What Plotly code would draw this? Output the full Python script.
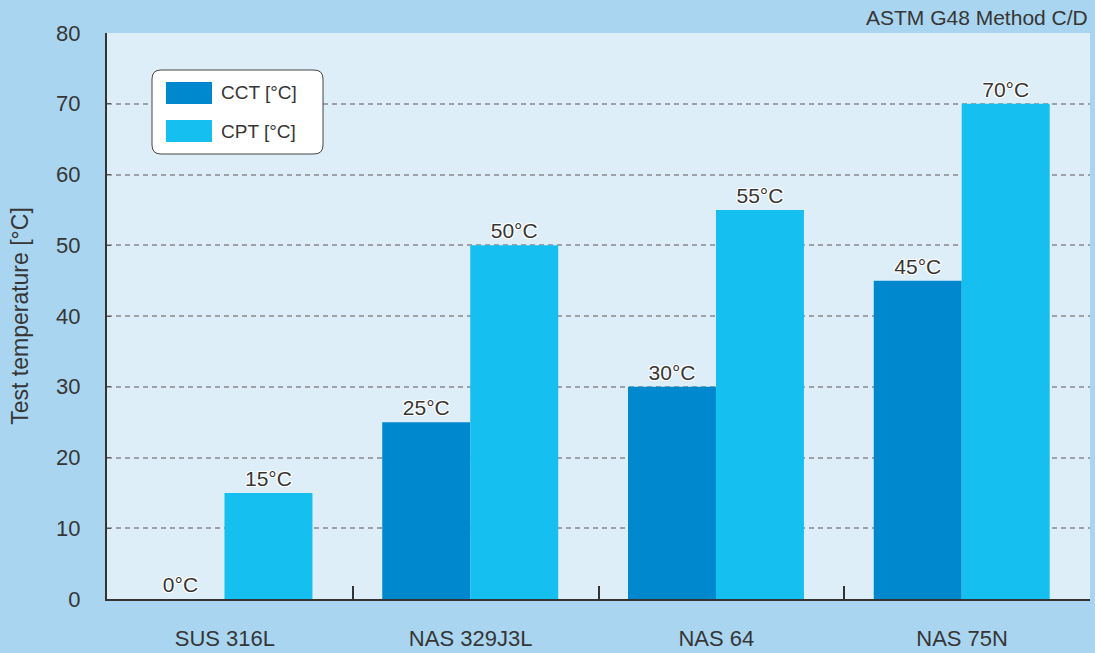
import plotly.graph_objects as go

categories = ["SUS 316L", "NAS 329J3L", "NAS 64", "NAS 75N"]
cct = [0, 25, 30, 45]
cpt = [15, 50, 55, 70]
series_names = ["CCT [°C]", "CPT [°C]"]
colors = ["#0088CE", "#15C0F0"]

FONT = "Liberation Sans, Arial, sans-serif"
TXT = "#363636"
SHADOW = "1px 1px 0 white, -1px -1px 0 white, 1px -1px 0 white, -1px 1px 0 white, 0 1px 0 white, 0 -1px 0 white, 1px 0 0 white, -1px 0 0 white"

BW = 0.358
SHIFT = -0.022
fig = go.Figure()
for i, (name, vals, col) in enumerate(zip(series_names, [cct, cpt], colors)):
    fig.add_trace(go.Bar(
        x=categories, y=vals, name=name, marker=dict(color=col, line=dict(width=0)),
        width=BW, offset=SHIFT - BW + i * BW,
        text=[f"{v}°C" for v in vals], textposition="outside",
        textfont=dict(size=21, color=TXT, family=FONT, shadow=SHADOW),
        cliponaxis=False, showlegend=False,
    ))

W, H = 1095, 653
L, R, T, B = 107, 5, 33, 54
pw, ph = W - L - R, H - T - B

def px(x):
    return (x - L) / pw

def py(y):
    return (H - B - y) / ph

# custom legend with rounded box
bx0, bx1, by0, by1, r = 152, 323, 70, 154, 9
path = (f"M {px(bx0 + r)},{py(by0)} L {px(bx1 - r)},{py(by0)} "
        f"Q {px(bx1)},{py(by0)} {px(bx1)},{py(by0 + r)} "
        f"L {px(bx1)},{py(by1 - r)} Q {px(bx1)},{py(by1)} {px(bx1 - r)},{py(by1)} "
        f"L {px(bx0 + r)},{py(by1)} Q {px(bx0)},{py(by1)} {px(bx0)},{py(by1 - r)} "
        f"L {px(bx0)},{py(by0 + r)} Q {px(bx0)},{py(by0)} {px(bx0 + r)},{py(by0)} Z")
fig.add_shape(type="path", xref="paper", yref="paper", path=path,
              line=dict(color="#444444", width=1), fillcolor="white", layer="above")
for i, (name, col) in enumerate(zip(series_names, colors)):
    top = 82 + i * 38
    fig.add_shape(type="rect", xref="paper", yref="paper",
                  x0=px(166), x1=px(212), y0=py(top + 22), y1=py(top),
                  line=dict(width=0), fillcolor=col, layer="above")
    fig.add_annotation(xref="paper", yref="paper", x=px(219), y=py(top + 11),
                       text=name, showarrow=False, xanchor="left", yanchor="middle",
                       font=dict(size=19, color=TXT, family=FONT))

fig.add_annotation(xref="paper", yref="paper", x=1.0, y=py(17), text="ASTM G48 Method C/D",
                   showarrow=False, xanchor="right", yanchor="middle",
                   font=dict(size=21, color=TXT, family=FONT))

fig.update_layout(
    width=W, height=H,
    margin=dict(l=L, r=R, t=T, b=B),
    paper_bgcolor="#A9D5F0", plot_bgcolor="#DDEEF9",
    barmode="group", bargap=0.284, bargroupgap=0,
    font=dict(family=FONT, color=TXT),
    xaxis=dict(
        tickson="boundaries", ticks="inside", ticklen=13, tickwidth=2, tickcolor="#333333",
        showline=True, linecolor="#333333", linewidth=2,
        tickfont=dict(size=22, color=TXT), ticklabelstandoff=19, ticklabelshift=-5,
        showgrid=False, automargin=False,
    ),
    yaxis=dict(
        range=[0, 80], dtick=10, showgrid=True, gridcolor="#9ca2a8", griddash="5px,4px", gridwidth=1.5,
        showline=True, linecolor="#333333", linewidth=2, zeroline=False,
        tickfont=dict(size=22, color=TXT), ticks="inside", ticklen=4, tickwidth=1, tickcolor="#555555",
        ticklabelstandoff=20,
        title=dict(text="Test temperature [°C]", font=dict(size=23, color=TXT), standoff=21),
        automargin=False,
    ),
)

fig.write_html("out.html")
